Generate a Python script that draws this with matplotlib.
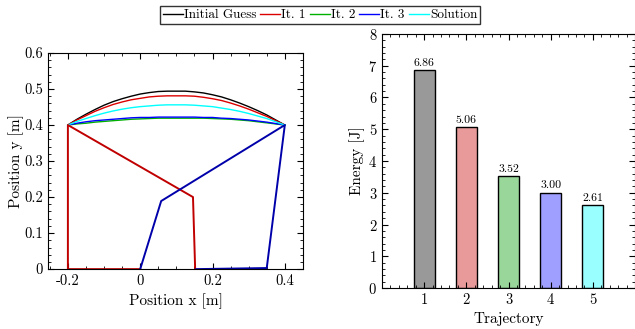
import matplotlib
matplotlib.use('Agg')
import matplotlib.pyplot as plt
from matplotlib.ticker import MultipleLocator

plt.rcParams['font.family'] = 'serif'
plt.rcParams['font.serif'] = ['cmr10', 'DejaVu Serif']
plt.rcParams['mathtext.fontset'] = 'cm'
plt.rcParams['axes.unicode_minus'] = False
plt.rcParams['axes.formatter.use_mathtext'] = True

# trajectories (x samples shared by all arcs)
arc_x = [-0.2, -0.175, -0.15, -0.125, -0.1, -0.075, -0.05, -0.025, 0.0, 0.025,
         0.05, 0.075, 0.1, 0.125, 0.15, 0.175, 0.2, 0.225, 0.25, 0.275,
         0.3, 0.325, 0.35, 0.375, 0.4]
guess_y = [.400, .416, .430, .443, .455, .465, .473, .480, .486, .490,
           .493, .494, .494, .494, .492, .489, .484, .478, .470, .461,
           .451, .440, .428, .414, .400]
it1_y = [.400, .414, .426, .438, .448, .457, .464, .470, .474, .478,
         .480, .481, .481, .481, .480, .477, .473, .468, .461, .453,
         .444, .434, .424, .412, .400]
it2_y = [.400, .403, .405, .408, .410, .412, .414, .416, .417, .418,
         .419, .419, .419, .419, .419, .419, .418, .417, .416, .414,
         .412, .409, .406, .403, .400]
it3_y = [.400, .405, .409, .412, .414, .416, .418, .420, .421, .421,
         .422, .422, .422, .422, .422, .421, .421, .419, .418, .416,
         .414, .411, .408, .404, .400]
sol_y = [.400, .410, .418, .426, .433, .439, .444, .448, .451, .453,
         .455, .456, .456, .456, .455, .453, .451, .447, .443, .438,
         .432, .425, .418, .409, .400]

labels = ['Initial Guess', 'It. 1', 'It. 2', 'It. 3', 'Solution']
colors = ['black', '#dd0000', '#00b000', '#0000ff', '#00ffff']

# links (red and blue polylines)
red_x = [0.0, -0.2, -0.2, 0.146, 0.152]
red_y = [0.0, 0.0, 0.4, 0.2, 0.0]
blue_x = [0.0, 0.058, 0.4, 0.35, 0.155]
blue_y = [0.0, 0.189, 0.4, 0.003, 0.0]

# energies
traj = [1, 2, 3, 4, 5]
energy = [6.86, 5.06, 3.52, 3.00, 2.61]
bar_colors = ['#999999', '#e89999', '#99d699', '#9f9fff', '#99ffff']

fig = plt.figure(figsize=(6.35, 3.29), dpi=100)
ax1 = fig.add_axes([0.0756, 0.182, 0.4014, 0.657])
ax2 = fig.add_axes([0.6016, 0.1246, 0.3984, 0.7721])

lines = []
for yy, c, lab in zip([guess_y, it1_y, it2_y, it3_y, sol_y], colors, labels):
    l, = ax1.plot(arc_x, yy, color=c, lw=1.0, label=lab)
    lines.append(l)
ax1.plot(red_x, red_y, color='#c00000', lw=1.4)
ax1.plot(blue_x, blue_y, color='#0000aa', lw=1.4)

ax1.set_xlim(-0.255, 0.45)
ax1.set_ylim(0, 0.6)
ax1.xaxis.set_minor_locator(MultipleLocator(0.05))
ax1.yaxis.set_minor_locator(MultipleLocator(0.02))
ax1.set_xlabel('Position x [m]', fontsize=11, labelpad=4)
ax1.set_ylabel('Position y [m]', fontsize=11, labelpad=0)
ax1.set_xticks([-0.2, 0, 0.2, 0.4])
ax1.set_xticklabels(['-0.2', '0', '0.2', '0.4'])
ax1.set_yticks([0, 0.1, 0.2, 0.3, 0.4, 0.5, 0.6])
ax1.set_yticklabels(['0', '0.1', '0.2', '0.3', '0.4', '0.5', '0.6'])

bars = ax2.bar(traj, energy, width=0.5, color=bar_colors, edgecolor='black', lw=1.0)
for b, e in zip(bars, energy):
    ax2.text(b.get_x() + b.get_width() / 2, e + 0.08, '%.2f' % e,
             ha='center', va='bottom', fontsize=8.5)
ax2.set_xlim(0, 6)
ax2.set_ylim(0, 8)
ax2.xaxis.set_minor_locator(MultipleLocator(0.2))
ax2.yaxis.set_major_locator(MultipleLocator(1))
ax2.yaxis.set_minor_locator(MultipleLocator(0.2))
ax2.set_xticks(traj)
ax2.set_xticklabels([str(t) for t in traj])
ax2.set_xlabel('Trajectory', fontsize=11, labelpad=4)
ax2.set_ylabel('Energy [J]', fontsize=11, labelpad=2)

for ax in (ax1, ax2):
    ax.tick_params(which='both', direction='in', top=True, right=True, labelsize=10.5)
    ax.tick_params(which='major', length=4)
    ax.tick_params(which='minor', length=2)

fig.legend(handles=lines, loc='center', bbox_to_anchor=(0.504, 0.954), ncol=5,
           fontsize=9.5, frameon=True, fancybox=False, edgecolor='black',
           handlelength=1.5, handletextpad=0.1, columnspacing=0.3,
           borderpad=0.2, borderaxespad=0)

fig.savefig('out.png', dpi=100)
